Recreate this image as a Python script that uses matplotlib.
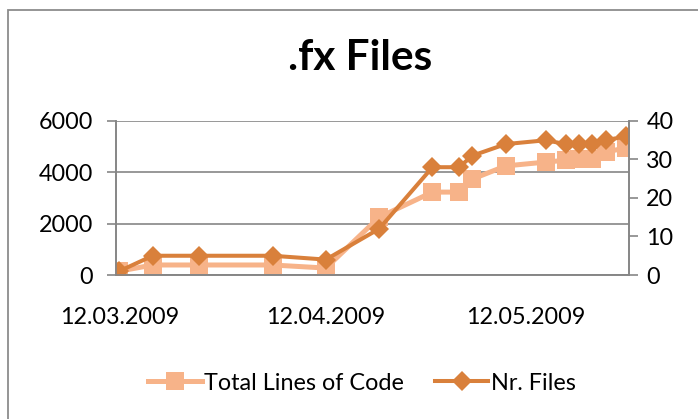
import datetime as dt
import matplotlib
matplotlib.use("Agg")
import matplotlib.pyplot as plt
import matplotlib.dates as mdates
from matplotlib.patches import Rectangle

# Snapshot dates and the two tracked series
dates = [
    "2009-03-12", "2009-03-17", "2009-03-24", "2009-04-04", "2009-04-12",
    "2009-04-20", "2009-04-28", "2009-05-02", "2009-05-04", "2009-05-09",
    "2009-05-15", "2009-05-18", "2009-05-20", "2009-05-22", "2009-05-24",
    "2009-05-27",
]
total_lines = [150, 390, 390, 390, 270, 2250, 3230, 3230, 3740, 4250,
               4400, 4470, 4500, 4530, 4790, 4950]
nr_files = [1, 5, 5, 5, 4, 12, 28, 28, 31, 34, 35, 34, 34, 34, 35, 36]

left_ticks = [0, 2000, 4000, 6000]
right_ticks = [0, 10, 20, 30, 40]
title = ".fx Files"
series_names = ["Total Lines of Code", "Nr. Files"]

x = [dt.datetime.strptime(d, "%Y-%m-%d") for d in dates]

plt.rcParams["font.family"] = ["Lato", "DejaVu Sans"]

W, H, DPI = 698, 419, 100
fig = plt.figure(figsize=(W / DPI, H / DPI), dpi=DPI)

# chart-area outline
fig.patches.append(Rectangle((8 / W, -0.1), 1.2, 1 - 10 / H + 0.1,
                             transform=fig.transFigure, fill=False,
                             edgecolor="#8c8c8c", linewidth=1.3))

L, R, T, B = 116, 629, 121, 275
ax = fig.add_axes([L / W, 1 - B / H, (R - L) / W, (B - T) / H])
ax2 = ax.twinx()

light = "#F7B389"
dark = "#D9803B"
grey = "#868686"
fs = 16.8

ax.plot(x, total_lines, color=light, lw=3.6, marker="s", ms=13.5,
        markeredgewidth=0, label=series_names[0], solid_joinstyle="round")
ax2.plot(x, nr_files, color=dark, lw=2.9, marker="D", ms=10.2,
         markeredgewidth=0, label=series_names[1], solid_joinstyle="round")

pad_days = dt.timedelta(hours=12)
ax.set_xlim(x[0] - pad_days, x[-1] + pad_days)
ax.set_ylim(0, 6000)
ax2.set_ylim(0, 40)
ax.set_yticks(left_ticks)
ax2.set_yticks(right_ticks)

ax.xaxis.set_major_locator(mdates.DayLocator(bymonthday=12))
ax.xaxis.set_major_formatter(mdates.DateFormatter("%d.%m.%Y"))

ax.grid(axis="y", color=grey, lw=1.2)
ax.set_axisbelow(True)

for a in (ax, ax2):
    a.spines["top"].set_visible(False)
    for side in ("left", "right", "bottom"):
        a.spines[side].set_color(grey)
        a.spines[side].set_linewidth(1.2)

ax.tick_params(axis="x", length=0, pad=23, labelsize=fs)
ax.tick_params(axis="y", length=6.5, width=1.2, color=grey, pad=10,
               labelsize=fs)
ax2.tick_params(axis="y", length=6.5, width=1.2, color=grey, pad=6,
                labelsize=fs)

fig.text(360 / W, 1 - 58 / H, title, ha="center", va="center",
         fontsize=30.5, fontweight="bold")

h1, l1 = ax.get_legend_handles_labels()
h2, l2 = ax2.get_legend_handles_labels()
fig.legend(h1 + h2, l1 + l2, loc="center", ncol=2,
           bbox_to_anchor=(362 / W, 1 - 383 / H), frameon=False,
           fontsize=fs, handlelength=2.3, handletextpad=0.1,
           columnspacing=1.3, markerscale=0.95)

fig.savefig("out.png", dpi=DPI)
